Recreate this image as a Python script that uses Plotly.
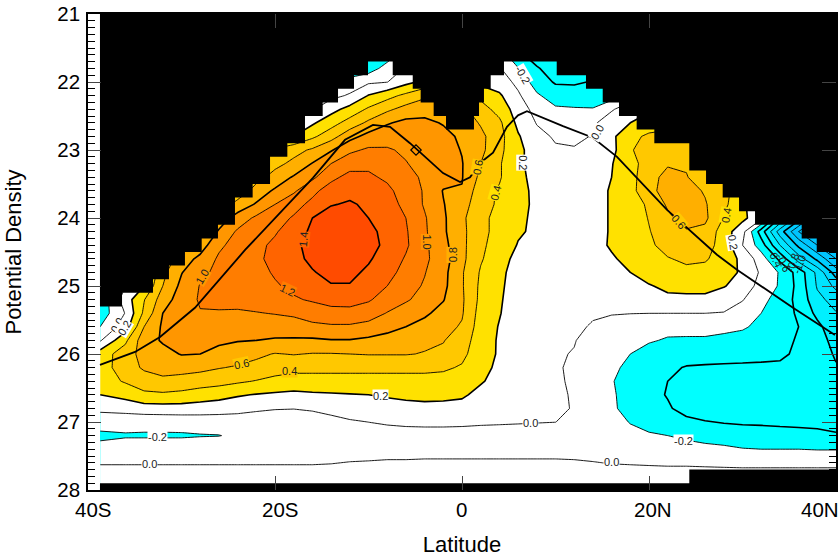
import plotly.graph_objects as go

lats = [-38.7, -36, -34, -32, -30, -28, -26, -24, -22, -20, -18, -16, -14, -12, -10, -8, -6, -4, -2, 0,
        2, 4, 6, 8, 10, 12, 14, 16, 18, 20, 22, 24, 26, 28, 30, 32, 34, 36, 38, 40]
densities = [21.6, 21.8, 22.0, 22.2, 22.4, 22.6, 22.8, 23.0, 23.2, 23.4, 23.6, 23.8, 24.0, 24.2, 24.4, 24.6, 24.8,
             25.0, 25.2, 25.4, 25.6, 25.8, 26.0, 26.2, 26.4, 26.6, 26.8, 27.0, 27.2, 27.4, 27.6, 27.8, 28.0]

z_values = [
    [-.4]*15 + [-.3, -.1, 0, .1, .1, .1, -.1, -.35, -.5, -.55] + [-.5]*15,
    [-.4]*14 + [-.3, -.12, .02, .1, .15, .2, .2, .02, -.19, -.38, -.5, -.5, -.5, -.5] + [-.5]*12,
    [-.3]*13 + [-.1, -.03, -.005, .14, .25, .3, .3, .15, .1, -.05, -.3, -.42, -.42, -.39, -.35, -.3] + [-.3]*11,
    [-.2]*12 + [-.05, .02, .21, .33, .45, .57, .6, .55, .35, .23, .03, -.17, -.3, -.33, -.3, -.3, -.1, -.1] + [-.1]*10,
    [-.15]*11 + [-.02, .13, .27, .43, .56, .67, .7, .7, .65, .48, .33, .10, -.07, -.17, -.18, -.19, -.02, .1, .15] + [.15]*10,
    [-.05]*10 + [0, .17, .32, .48, .64, .78, .85, .86, .78, .72, .58, .44, .15, -.01, -.07, -.09, -.03, .1, .2, .34] + [.34]*10,
    [.1]*10 + [.2, .36, .52, .73, .87, .92, .95, .96, .88, .75, .65, .47, .22, .05, -.02, -.04, .01, .15, .37, .42] + [.45]*10,
    [.3]*9 + [.44, .53, .63, .78, .96, 1.03, 1.02, .97, .94, .88, .79, .65, .45, .25, .1, .02, .015, .06, .14, .38, .5, .55, .55] + [.5]*8,
    [.4]*8 + [.45, .54, .65, .81, 1.0, 1.12, 1.16, 1.1, 1.01, .93, .87, .81, .6, .42, .24, .12, .08, .07, .09, .19, .33, .49, .58, .58, .5] + [.4]*7,
    [.35]*7 + [.4, .52, .68, .82, .96, 1.15, 1.26, 1.23, 1.17, 1.06, .97, .88, .81, .55, .42, .24, .15, .12, .11, .13, .2, .33, .53, .66, .61, .5, .4] + [.3]*6,
    [.3]*6 + [.35, .45, .69, .83, .97, 1.15, 1.29, 1.35, 1.33, 1.24, 1.12, .98, .79, .79, .47, .38, .24, .17, .14, .13, .16, .21, .33, .55, .67, .68, .58, .45, .3] + [.2]*5,
    [.3]*6 + [.45, .68, .82, 1.0, 1.13, 1.25, 1.39, 1.42, 1.37, 1.28, 1.15, .98, .81, .67, .5, .36, .23, .18, .15, .15, .16, .21, .31, .43, .63, .7, .62, .43, .3, -.2] + [-.5]*4,
    [.3]*5 + [.45, .7, .88, 1.04, 1.12, 1.22, 1.4, 1.48, 1.52, 1.4, 1.32, 1.2, 1.02, .83, .64, .45, .34, .22, .18, .16, .15, .16, .21, .29, .41, .56, .68, .64, .39, .25, .06, -.6, -1.1, -1.6, -1.9],
    [.3]*4 + [.4, .6, .82, 1.03, 1.12, 1.18, 1.3, 1.44, 1.52, 1.54, 1.46, 1.33, 1.22, 1.03, .83, .65, .45, .34, .22, .17, .15, .15, .16, .21, .28, .39, .5, .58, .55, .3, .07, -.5, -1.1, -1.6, -1.9, -2.0],
    [.3]*4 + [.5, .7, .96, 1.08, 1.15, 1.24, 1.36, 1.46, 1.53, 1.55, 1.49, 1.34, 1.23, 1.04, .86, .65, .44, .31, .19, .15, .13, .12, .14, .22, .27, .37, .46, .5, .47, .33, .001, -.3, -.8, -1.25, -1.6, -1.8],
    [.2]*3 + [.45, .7, .85, 1.03, 1.09, 1.16, 1.26, 1.36, 1.43, 1.5, 1.51, 1.42, 1.32, 1.18, 1.04, .89, .65, .42, .28, .14, .11, .09, .09, .11, .18, .25, .32, .39, .43, .42, .32, .15, -.1, -.45, -.9, -1.25, -1.6],
    [.1]*3 + [.55, .79, .96, 1.04, 1.08, 1.14, 1.22, 1.31, 1.39, 1.44, 1.44, 1.37, 1.26, 1.14, 1.01, .86, .62, .38, .24, .13, .08, .06, .05, .06, .13, .2, .26, .31, .36, .34, .28, .17, -.03, -.22, -.48, -.85, -1.3],
    [-.2, 0, .2, .6, .85, 1.01, 1.04, 1.07, 1.12, 1.18, 1.24, 1.31, 1.39, 1.39, 1.31, 1.2, 1.08, .98, .85, .62, .36, .23, .12, .06, .04, .03, .05, .09, .14, .19, .23, .24, .24, .21, .13, -.08, -.22, -.46, -.82, -1.05],
    [-.35, .1, .39, .7, .9, 1.02, 1.03, 1.05, 1.09, 1.14, 1.18, 1.22, 1.26, 1.27, 1.22, 1.12, 1.02, .94, .81, .63, .35, .22, .11, .05, .03, .02, .03, .06, .09, .13, .17, .17, .17, .11, .01, -.13, -.3, -.45, -.75, -.87],
    [-.32, .01, .44, .8, .93, .99, .99, .98, .99, 1.01, 1.03, 1.1, 1.14, 1.14, 1.1, .99, .92, .83, .74, .62, .32, .21, .1, .04, .02, .015, .012, .008, .003, .001, .001, .001, .001, -.01, -.08, -.2, -.3, -.43, -.65, -.79],
    [-.2, .1, .6, .83, .89, .91, .9, .89, .88, .89, .92, .95, .97, .97, .93, .87, .8, .74, .66, .58, .3, .19, .09, .03, .025, .02, -.01, -.05, -.07, -.1, -.14, -.15, -.15, -.16, -.18, -.24, -.31, -.4, -.55, -.73],
    [-.02, .36, .72, .82, .85, .85, .83, .81, .8, .78, .77, .77, .79, .79, .76, .72, .69, .64, .61, .5, .29, .18, .08, .03, .02, .005, -.04, -.07, -.12, -.18, -.22, -.22, -.22, -.24, -.26, -.31, -.37, -.41, -.5, -.68],
    [.3, .5, .68, .74, .81, .8, .75, .7, .64, .59, .61, .59, .59, .6, .61, .61, .61, .59, .56, .45, .28, .18, .08, .02, .01, -.005, -.05, -.11, -.2, -.28, -.31, -.33, -.33, -.35, -.36, -.37, -.38, -.42, -.47, -.63],
    [.31, .5, .63, .7, .68, .65, .61, .58, .54, .48, .45, .45, .45, .45, .45, .45, .45, .45, .43, .38, .26, .16, .07, .02, .01, -.015, -.06, -.14, -.27, -.34, -.37, -.41, -.42, -.42, -.42, -.42, -.42, -.44, -.49, -.58],
    [.31, .42, .5, .54, .52, .5, .47, .43, .39, .35, .33, .33, .33, .33, .33, .33, .33, .33, .33, .3, .22, .13, .06, .02, .01, -.01, -.07, -.18, -.33, -.39, -.4, -.48, -.49, -.5, -.5, -.5, -.5, -.5, -.52, -.54],
    [.2, .27, .36, .37, .35, .3, .27, .22, .19, .17, .15, .17, .18, .19, .2, .22, .24, .25, .25, .23, .14, .08, .04, .02, .01, -.005, -.09, -.17, -.29, -.35, -.41, -.5, -.52, -.52, -.52, -.51, -.5, -.5, -.5, -.5],
    [.04, .07, .11, .12, .12, .11, .09, .07, .03, .01, .005, .02, .04, .09, .12, .13, .14, .15, .14, .13, .1, .07, .05, .04, .03, -.01, -.08, -.15, -.31, -.38, -.38, -.46, -.5, -.5, -.5, -.5, -.49, -.48, -.47, -.46],
    [-.1, -.12, -.14, -.14, -.13, -.12, -.11, -.11, -.1, -.1, -.1, -.08, -.04, -.02, .001, .02, .03, .035, .035, .03, .02, .015, .01, .005, .001, -.03, -.09, -.12, -.21, -.29, -.33, -.36, -.39, -.41, -.42, -.42, -.42, -.42, -.42, -.43],
    [-.25, -.22, -.22, -.22, -.22, -.21, -.205, -.17, -.13, -.12, -.12, -.11, -.1, -.09, -.08, -.07, -.06, -.06, -.06, -.06, -.06, -.06, -.06, -.06, -.06, -.07, -.1, -.12, -.14, -.17, -.2, -.24, -.28, -.3, -.32, -.34, -.36, -.37, -.38, -.39],
    [-.12, -.1, -.1, -.1, -.1, -.09, -.09, -.08, -.08, -.08, -.08, -.07, -.07, -.06, -.06, -.05, -.05, -.05, -.05, -.05, -.05, -.05, -.05, -.05, -.05, -.05, -.05, -.06, -.07, -.08, -.1, -.12, -.14, -.16, -.19, -.2, -.2, -.2, -.21, -.21],
    [-.01]*12 + [-.005, .005, .01, .015, .015, .02, .02, .02, .02, .02, .02, .02, .02, .015, .005, -.005, -.01, -.015, -.02, -.02, -.025, -.03, -.035, -.035, -.035, -.035, -.035, -.035],
    [.06]*40,
    [.08]*40,
]
assert len(z_values) == len(densities) and all(len(r) == len(lats) for r in z_values), [len(r) for r in z_values]

band_floor = [-2.2, -2.0, -1.8, -1.6, -1.4, -1.2, -1.0, -0.8, -0.6, -0.4, -0.2, 0.0, 0.2, 0.4, 0.6, 0.8, 1.0, 1.2, 1.4, 1.6]
band_color = ["#00c4ff", "#00c4ff", "#00c4ff", "#00c4ff", "#00ccff", "#00d8ff", "#00e4ff", "#00f0ff", "#00ffff", "#00ffff",
              "#ffffff", "#ffffff", "#ffe100", "#ffc800", "#ffaf00", "#ff9600", "#ff7d00", "#ff6400", "#ff4b00", "#ff4b00"]

thin_levels = [-1.6, -1.4, -1.0, -0.8, -0.2, 0.0, 0.4, 0.6, 1.0, 1.2]
thick_levels = [-1.8, -1.2, -0.6, -0.4, 0.2, 0.8, 1.4]

outcrop_lat = [-38.72, -34.97, -32.3, -28.56, -23.2, -15.94, -12.51, -9.52, -7.7, -5.56, -2.03, -0.21, 0.86, 1.93, 3.32,
               4.81, 5.99, 6.95, 10.8, 14.01, 16.58, 18.72, 21.93, 27.27, 29.41, 35.4, 39.89]
outcrop_dens = [26.16, 25.97, 25.75, 25.32, 24.47, 23.41, 22.85, 22.63, 22.66, 22.9, 23.34, 23.47, 23.4, 23.19, 23.04,
                22.66, 22.49, 22.43, 22.65, 22.82, 23.1, 23.41, 23.88, 24.54, 24.76, 25.32, 25.72]

mask_lat = [-38.72, -38.72, -36.36, -36.36, -33.05, -33.05, -31.34, -31.34, -29.63, -29.63, -27.84, -27.84, -26.10, -26.10,
            -24.28, -24.28, -22.39, -22.39, -20.53, -20.53, -18.68, -18.68, -16.79, -16.79, -14.90, -14.90, -13.26, -13.26,
            -11.55, -11.55, -10.05, -10.05, -7.41, -7.41, -5.27, -5.27, -4.42, -4.42, -3.03, -3.03, -1.71, -1.71, 1.28, 1.28,
            1.82, 1.82, 2.35, 2.35, 3.07, 3.07, 4.49, 4.49, 10.13, 10.13, 13.26, 13.26, 15.05, 15.05, 16.79, 16.79, 18.68, 18.68,
            20.57, 20.57, 24.31, 24.31, 26.10, 26.10, 27.88, 27.88, 29.63, 29.63, 31.34, 31.34, 36.33, 36.33, 37.94, 37.94,
            39.71, 39.71, 40, 40]
mask_dens = [21, 25.3, 25.3, 25.1, 25.1, 24.9, 24.9, 24.7, 24.7, 24.5, 24.5, 24.3, 24.3, 24.1,
             24.1, 23.7, 23.7, 23.5, 23.5, 23.1, 23.1, 22.9, 22.9, 22.5, 22.5, 22.3, 22.3, 22.1,
             22.1, 21.9, 21.9, 21.7, 21.7, 21.9, 21.9, 22.1, 22.1, 22.3, 22.3, 22.5, 22.5, 22.7, 22.7, 22.5,
             22.5, 22.3, 22.3, 22.1, 22.1, 21.9, 21.9, 21.7, 21.7, 21.9, 21.9, 22.1, 22.1, 22.3, 22.3, 22.5, 22.5, 22.7,
             22.7, 22.9, 22.9, 23.3, 23.3, 23.5, 23.5, 23.7, 23.7, 23.9, 23.9, 24.1, 24.1, 24.3, 24.3, 24.5,
             24.5, 24.5, 24.5, 21]
floor_lat = [-38.72, 24.31, 24.31, 40, 40, -38.72]
floor_dens = [27.9, 27.9, 27.7, 27.7, 28, 28]

label_text = ["0.0", "-0.2", "0.2", "0.4", "0.6", "1.0", "1.2", "1.4", "1.0", "0.8", "0.6", "0.4", "0.2", "-0.2", "0.0",
              "0.6", "0.4", "0.2", "0.0", "0.0", "-0.2", "0.0", "0.2", "-0.4", "-0.6", "-0.8", "-1.0"]
label_lat = [-33.4, -32.6, -8.7, -18.5, -23.6, -27.8, -18.7, -17.0, -3.7, -1.0, 1.7, 3.6, 6.5, 6.5, 14.5,
             23.2, 28.3, 29.0, 7.3, 16.0, 23.7, -36.9, -36.1, 33.5, 34.4, 35.4, 36.1]
label_dens = [27.62, 27.22, 26.62, 26.25, 26.15, 24.87, 25.06, 24.32, 24.35, 24.54, 23.25, 23.63, 23.19, 21.9, 22.74,
              24.06, 23.96, 24.35, 27.01, 27.59, 27.28, 25.57, 25.62, 24.59, 24.66, 24.65, 24.68]
label_angle = [0, 0, 0, 0, -12, -60, 25, -85, 90, -90, -80, -75, 90, 60, -60,
               50, -80, 80, 0, 0, 0, -60, -60, 65, 65, -70, -70]
label_bg = ["#ffffff", "#ffffff", "#ffffff", "#ffc800", "#ffc800", "#ff9600", "#ff7d00", "#ff6400", "#ff9600", "#ffaf00",
            "#ffc800", "#ffe100", "#ffffff", "#ffffff", "#ffffff", "#ffc800", "#ffe100", "#ffffff", "#ffffff", "#ffffff",
            "#ffffff", "#ffffff", "#ffffff", "rgba(0,0,0,0)", "rgba(0,0,0,0)", "rgba(0,0,0,0)", "rgba(0,0,0,0)"]

x_tick_vals = [-40, -20, 0, 20, 40]
x_tick_text = ["40S", "20S", "0", "20N", "40N"]
x_tick_shift = [5, 5, -1, 4, -16]
y_tick_vals = [21, 22, 23, 24, 25, 26, 27, 28]

FONT = "Liberation Sans"
z_lo, z_hi = -2.2, 1.8
colorscale = []
for i, (lo, col) in enumerate(zip(band_floor, band_color)):
    hi = band_floor[i + 1] if i + 1 < len(band_floor) else z_hi
    colorscale.append([(lo - z_lo) / (z_hi - z_lo), col])
    colorscale.append([(hi - z_lo) / (z_hi - z_lo), col])

fig = go.Figure()
fig.add_trace(go.Contour(x=lats, y=densities, z=z_values, autocontour=False, zmin=z_lo, zmax=z_hi,
                         contours=dict(start=-2.0, end=1.6, size=0.2, coloring="fill", showlines=False),
                         colorscale=colorscale, showscale=False, line=dict(width=0, smoothing=0), hoverinfo="skip"))
for levels, width in ((thin_levels, 0.9), (thick_levels, 1.6)):
    for lev in levels:
        fig.add_trace(go.Contour(x=lats, y=densities, z=z_values, autocontour=False,
                                 contours=dict(start=lev, end=lev, size=1, coloring="lines"),
                                 colorscale=[[0, "#000"], [1, "#000"]], showscale=False,
                                 line=dict(width=width, smoothing=0), hoverinfo="skip"))
fig.add_trace(go.Scatter(x=mask_lat, y=mask_dens, mode="lines", fill="toself", fillcolor="#000",
                         line=dict(width=0), hoverinfo="skip"))
fig.add_trace(go.Scatter(x=floor_lat, y=floor_dens, yaxis="y2", mode="lines", fill="toself", fillcolor="#000",
                         line=dict(width=0), hoverinfo="skip"))
fig.add_trace(go.Scatter(x=outcrop_lat, y=outcrop_dens, mode="lines", line=dict(color="#000", width=1.8), hoverinfo="skip"))
fig.add_trace(go.Scatter(x=[-4.92], y=[23.0], mode="markers", hoverinfo="skip",
                         marker=dict(symbol="diamond-open", size=8, color="#000", line=dict(width=1.2, color="#000"))))

ann = []
for t, la, de, ang, bg in zip(label_text, label_lat, label_dens, label_angle, label_bg):
    ann.append(dict(x=la, y=de, text=t, textangle=ang, showarrow=False, bgcolor=bg, borderpad=0,
                    font=dict(family=FONT, size=11, color="#222")))
for v, t, s in zip(x_tick_vals, x_tick_text, x_tick_shift):
    ann.append(dict(x=v, xref="x", y=0, yref="paper", yshift=-6, xshift=s, yanchor="top", text=t, showarrow=False,
                    font=dict(family=FONT, size=20.5, color="#000")))

minor_ticks = dict(dtick=0.1, ticks="inside", ticklen=7, tickwidth=1.3, tickcolor="#000")
fig.update_layout(
    width=839, height=557, margin=dict(l=88, r=3, t=14, b=67), showlegend=False,
    paper_bgcolor="#fff", plot_bgcolor="#fff", annotations=ann,
    font=dict(family=FONT, color="#000"),
    xaxis=dict(range=[-40, 40], tickvals=x_tick_vals, ticks="inside", ticklen=14, tickwidth=1.3, showticklabels=False,
               showgrid=False, zeroline=False, showline=True, linecolor="#000", linewidth=1.5, mirror="ticks",
               title=dict(text="Latitude", font=dict(size=22, family=FONT), standoff=46)),
    yaxis=dict(range=[28, 21], tickvals=y_tick_vals, ticks="inside", ticklen=13, tickwidth=1.3, ticklabelstandoff=2,
               tickfont=dict(size=20.5, family=FONT), showgrid=False, zeroline=False, showline=True, linecolor="#000",
               linewidth=1.5, minor=minor_ticks,
               title=dict(text="Potential Density", font=dict(size=22, family=FONT), standoff=30)),
    yaxis2=dict(range=[28, 21], overlaying="y", side="right", anchor="x", tickvals=y_tick_vals, ticks="inside", ticklen=14,
                tickwidth=1.3, showticklabels=False, showgrid=False, zeroline=False, showline=True, linecolor="#000",
                linewidth=1.5, minor=minor_ticks),
)
fig.write_html("out.html", config={"displayModeBar": False},
               post_script="document.body.style.margin='0';")
